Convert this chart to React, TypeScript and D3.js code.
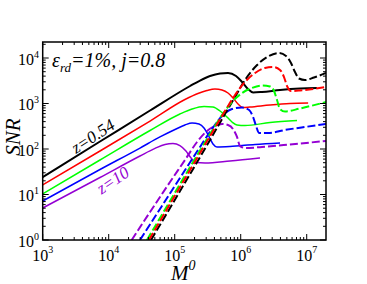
import * as d3 from "d3";

type Pt = [number, number];

const xTickValues = [1e3, 1e4, 1e5, 1e6, 1e7];
const xTickExps = ["3", "4", "5", "6", "7"];
const yTickValues = [1, 10, 100, 1e3, 1e4];
const yTickExps = ["0", "1", "2", "3", "4"];

// solid curves, z = 0.54 (black) ... z = 10 (violet)
const solidBlack: Pt[] = [[1000, 24.2], [7380, 146], [42300, 702], [171000, 2425], [242000, 3200], [343000, 4020], [486000, 4565], [642000, 4680], [849000, 4020], [1050000, 2970], [1290000, 2083], [1540000, 1745], [2100000, 1790], [3940000, 1980], [7910000, 2135], [14300000, 2190]];
const solidRed: Pt[] = [[1000, 16.2], [7380, 90.4], [42300, 412], [143000, 1224], [225000, 1660], [308000, 1931], [407000, 2083], [521000, 1980], [642000, 1702], [765000, 1321], [910000, 975], [1080000, 817], [1380000, 838], [2780000, 927], [5580000, 1000], [10500000, 1026]];
const solidGreen: Pt[] = [[1000, 10.3], [7380, 57.3], [42300, 255], [120000, 588], [183000, 757], [278000, 859], [380000, 838], [486000, 684], [619000, 505], [738000, 392], [879000, 337], [1160000, 328], [2780000, 382], [7130000, 423]];
const solidBlue: Pt[] = [[1000, 7.2], [7380, 35.4], [29800, 105], [59800, 184], [101000, 268], [143000, 337], [183000, 373], [233000, 354], [278000, 290], [331000, 188], [380000, 129], [437000, 111], [688000, 113.5], [1650000, 126], [3940000, 135.5]];
const solidViolet: Pt[] = [[1000, 5.05], [7380, 23.6], [29800, 70.2], [50300, 103], [71300, 126], [94200, 132], [120000, 119], [148000, 90.4], [177000, 63.4], [210000, 50.5], [288000, 49.3], [688000, 54.5], [1960000, 63.4]];

// dashed curves
const dashBlack: Pt[] = [[43700, 1], [84900, 5.05], [171000, 28.2], [343000, 158], [578000, 588], [820000, 1390], [1160000, 3283], [1770000, 7020], [2590000, 10790], [3800000, 12880], [4860000, 11070], [5780000, 7770], [6650000, 4920], [7640000, 3542], [9420000, 3283], [12900000, 3727], [19600000, 4680]];
const dashRed: Pt[] = [[40800, 1], [84900, 6.18], [171000, 34.5], [343000, 193], [578000, 684], [820000, 1538], [1160000, 2970], [1650000, 4680], [2330000, 6030], [3080000, 6340], [3940000, 5450], [4530000, 3822], [5030000, 2425], [5780000, 1883], [7910000, 1931], [19600000, 2305]];
const dashGreen: Pt[] = [[38000, 1], [84900, 7.2], [171000, 40.2], [343000, 214], [521000, 559], [738000, 1079], [1050000, 1702], [1480000, 2192], [2100000, 2487], [2780000, 2365], [3200000, 1883], [3550000, 1194], [3940000, 757], [4690000, 667], [7910000, 777], [19600000, 1079]];
const dashBlue: Pt[] = [[29800, 1], [59800, 4.8], [120000, 23], [242000, 111], [367000, 275], [521000, 531], [738000, 757], [1050000, 817], [1340000, 720], [1540000, 505], [1710000, 320], [1890000, 225], [2590000, 225], [4690000, 262], [9420000, 305], [19600000, 354]];
const dashViolet: Pt[] = [[22300, 1], [42300, 4.12], [84900, 18.8], [143000, 57.3], [218000, 142.5], [308000, 249], [407000, 320], [521000, 354], [642000, 337], [765000, 275], [879000, 184], [976000, 116], [1200000, 105], [2100000, 111], [5580000, 126], [19600000, 150]];

const W = 367, H = 284;
const L = 42.7, R = 326, T = 42, B = 240;
const serif = "'Liberation Serif', 'DejaVu Serif', serif";

export default function App() {
  const x = d3.scaleLog().domain([1e3, 1.96e7]).range([L, R]);
  const y = d3.scaleLog().domain([1, 22480]).range([B, T]);
  const line = d3.line<Pt>().x(d => x(d[0])).y(d => y(d[1])).curve(d3.curveMonotoneX);

  const series = [
    { d: solidViolet, c: "#9400d3", w: 1.5, dash: null },
    { d: solidBlue, c: "#0000ff", w: 1.5, dash: null },
    { d: solidGreen, c: "#00ff00", w: 1.5, dash: null },
    { d: solidRed, c: "#ff0000", w: 1.5, dash: null },
    { d: solidBlack, c: "#000000", w: 2, dash: null },
    { d: dashViolet, c: "#9400d3", w: 2, dash: "8,3" },
    { d: dashBlue, c: "#0000ff", w: 2, dash: "8,3" },
    { d: dashBlack, c: "#000000", w: 2, dash: "8,3" },
    { d: dashGreen, c: "#00ff00", w: 2, dash: "8,3" },
    { d: dashRed, c: "#ff0000", w: 2, dash: "8,3" },
  ];

  // minor ticks
  const minorX: number[] = [];
  for (let e = 3; e <= 7; e++) for (let k = 2; k <= 9; k++) { const v = k * 10 ** e; if (v <= 1.96e7) minorX.push(v); }
  const minorY: number[] = [];
  for (let e = 0; e <= 4; e++) for (let k = 2; k <= 9; k++) { const v = k * 10 ** e; if (v <= 22480) minorY.push(v); }

  return (
    <svg width={W} height={H} style={{ position: "absolute", left: 0, top: 0, background: "#fff" }}>
      <defs>
        <clipPath id="plot"><rect x={L} y={T} width={R - L} height={B - T} /></clipPath>
      </defs>
      <g clipPath="url(#plot)" fill="none">
        {series.map((s, i) => (
          <path key={i} d={line(s.d) || ""} stroke={s.c} strokeWidth={s.w} strokeDasharray={s.dash || undefined} />
        ))}
      </g>
      {/* ticks */}
      <g stroke="#000" strokeWidth={1}>
        {xTickValues.map(v => (
          <g key={"xm" + v}>
            <line x1={x(v)} x2={x(v)} y1={B} y2={B - 6} />
            <line x1={x(v)} x2={x(v)} y1={T} y2={T + 6} />
          </g>
        ))}
        {minorX.map(v => (
          <g key={"xn" + v}>
            <line x1={x(v)} x2={x(v)} y1={B} y2={B - 3} />
            <line x1={x(v)} x2={x(v)} y1={T} y2={T + 3} />
          </g>
        ))}
        {yTickValues.map(v => (
          <g key={"ym" + v}>
            <line x1={L} x2={L + 6} y1={y(v)} y2={y(v)} />
            <line x1={R} x2={R - 6} y1={y(v)} y2={y(v)} />
          </g>
        ))}
        {minorY.map(v => (
          <g key={"yn" + v}>
            <line x1={L} x2={L + 3} y1={y(v)} y2={y(v)} />
            <line x1={R} x2={R - 3} y1={y(v)} y2={y(v)} />
          </g>
        ))}
      </g>
      <rect x={L} y={T} width={R - L} height={B - T} fill="none" stroke="#000" strokeWidth={1.5} />
      {/* tick labels */}
      <g fontFamily={serif} fill="#000">
        {xTickValues.map((v, i) => (
          <text key={"xl" + v} x={x(v)} y={261} textAnchor="middle" fontSize={16}>
            10<tspan fontSize={10} dy={-8}>{xTickExps[i]}</tspan>
          </text>
        ))}
        {yTickValues.map((v, i) => (
          <text key={"yl" + v} x={39} y={y(v) + 6.5} textAnchor="end" fontSize={16}>
            10<tspan fontSize={10} dy={-7}>{yTickExps[i]}</tspan>
          </text>
        ))}
      </g>
      {/* axis titles */}
      <text transform="translate(20,137) rotate(-90)" textAnchor="middle" fontFamily={serif} fontStyle="italic" fontSize={21}>SNR</text>
      <text x={171} y={280} fontFamily={serif} fontStyle="italic" fontSize={21}>
        M<tspan fontSize={14} dy={-10}>0</tspan>
      </text>
      {/* annotations */}
      <text x={52} y={67} fontFamily={serif} fontStyle="italic" fontSize={20}>
        ε<tspan fontSize={13} dy={5}>rd</tspan><tspan dy={-5}>=1%, j=0.8</tspan>
      </text>
      <text transform="translate(96,141) rotate(-33)" textAnchor="middle" fontFamily={serif} fontStyle="italic" fontSize={17}>z=0.54</text>
      <text transform="translate(116,185) rotate(-34)" textAnchor="middle" fontFamily={serif} fontStyle="italic" fontSize={17} fill="#9400d3">z=10</text>
    </svg>
  );
}
